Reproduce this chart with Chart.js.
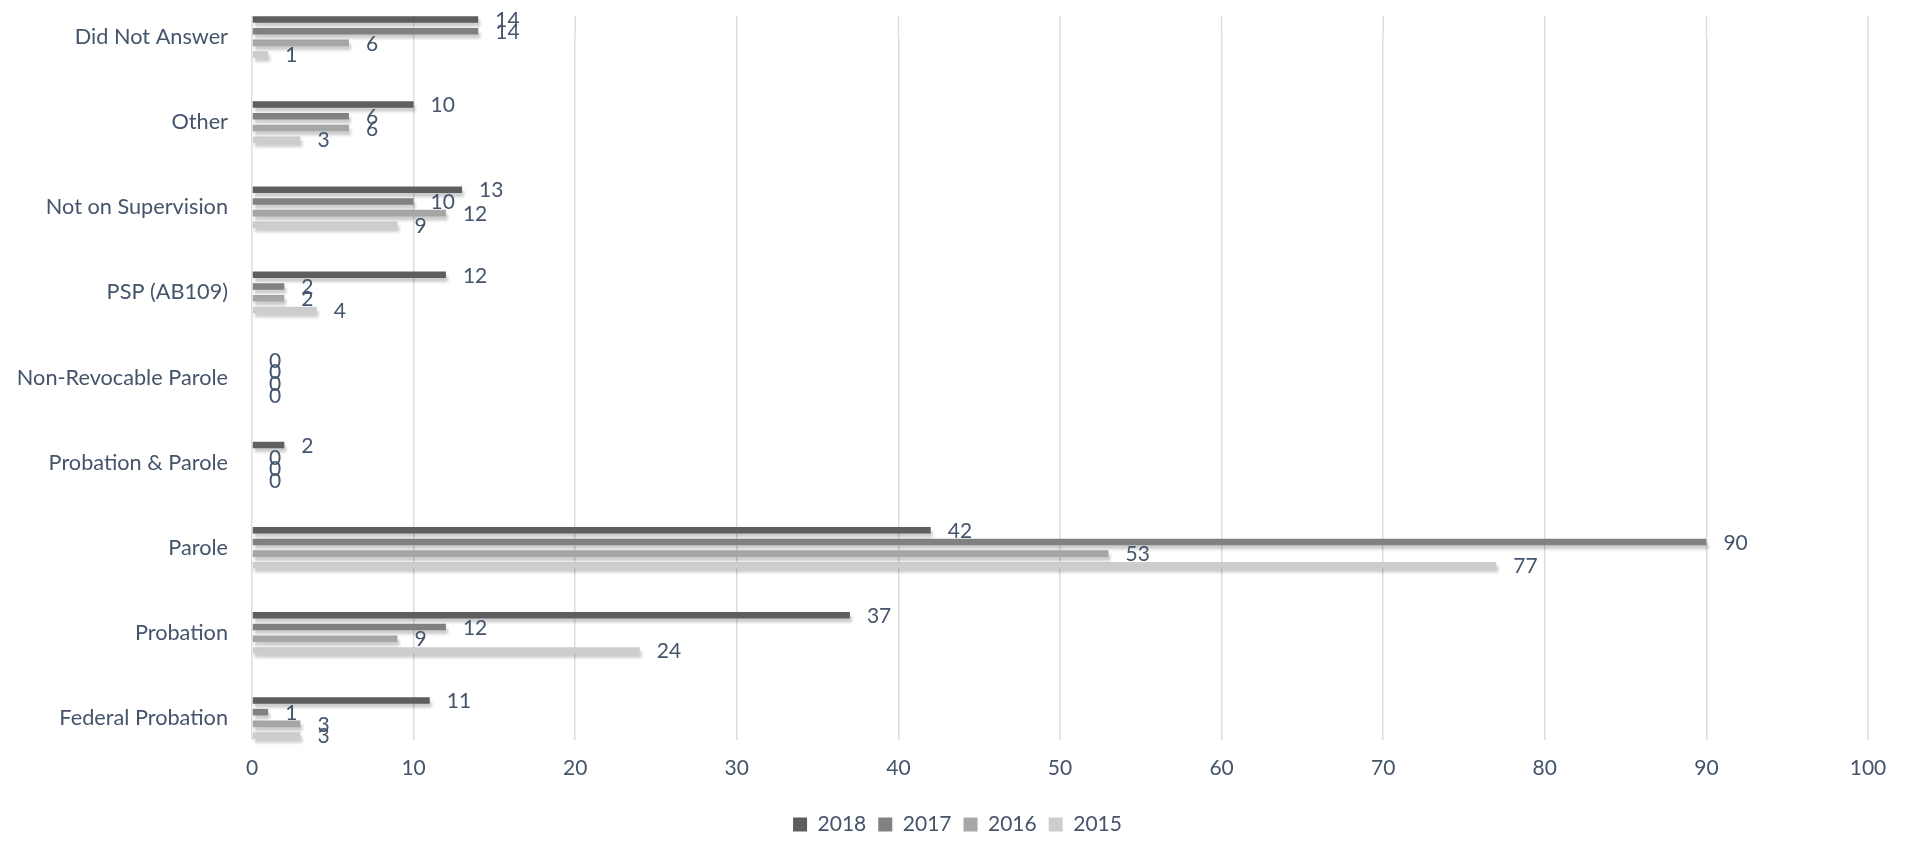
<!DOCTYPE html>
<html>
<head>
<meta charset="utf-8">
<script src="https://cdn.jsdelivr.net/npm/chart.js@4"></script>
<style>
  body { margin: 0; background: #fff; }
  #wrap { width: 1915px; height: 841px; position: relative; }
</style>
</head>
<body>
<div id="wrap"><canvas id="myChart"></canvas></div>
<script>
// Kategorien (von oben nach unten)
const categories = [
  "Did Not Answer",
  "Other",
  "Not on Supervision",
  "PSP (AB109)",
  "Non-Revocable Parole",
  "Probation & Parole",
  "Parole",
  "Probation",
  "Federal Probation"
];

const years = ["2018", "2017", "2016", "2015"];

const values2018 = [14, 10, 13, 12, 0, 2, 42, 37, 11];
const values2017 = [14, 6, 10, 2, 0, 0, 90, 12, 1];
const values2016 = [6, 6, 12, 2, 0, 0, 53, 9, 3];
const values2015 = [1, 3, 9, 4, 0, 0, 77, 24, 3];

const xTicks = [0, 10, 20, 30, 40, 50, 60, 70, 80, 90, 100];

const colors = ["#5e5e5e", "#818181", "#a6a6a6", "#cdcdcd"];
const textColor = "#44546a";
const gridColor = "#d9dee5";

Chart.defaults.font.family = "Lato";
Chart.defaults.font.size = 21;
Chart.defaults.color = textColor;

// Gitterlinien nach oben verlängern, Schatten unter den Balken, Werte rechts daneben
const barExtras = {
  id: "barExtras",
  beforeDatasetsDraw(chart) {
    const ctx = chart.ctx;
    const xScale = chart.scales.x;
    const top = chart.chartArea.top;
    ctx.save();
    ctx.strokeStyle = gridColor;
    ctx.lineWidth = 1.5;
    xScale.ticks.forEach(t => {
      const px = xScale.getPixelForValue(t.value);
      ctx.beginPath();
      ctx.moveTo(px, top - 21);
      ctx.lineTo(px, top);
      ctx.stroke();
    });
    ctx.restore();

    ctx.save();
    ctx.shadowColor = "rgba(0,0,0,0.2)";
    ctx.shadowOffsetX = 2;
    ctx.shadowOffsetY = 4;
    ctx.shadowBlur = 3;
  },
  afterDatasetsDraw(chart) {
    const ctx = chart.ctx;
    ctx.restore();
    ctx.save();
    ctx.font = "21px Lato";
    ctx.fillStyle = textColor;
    ctx.textAlign = "left";
    ctx.textBaseline = "middle";
    chart.data.datasets.forEach((ds, i) => {
      const meta = chart.getDatasetMeta(i);
      meta.data.forEach((bar, j) => {
        ctx.fillText(String(ds.data[j]), bar.x + 17, bar.y + 1);
      });
    });
    ctx.restore();
  }
};

const data = {
  labels: categories,
  datasets: [
    { label: years[0], data: values2018, backgroundColor: colors[0] },
    { label: years[1], data: values2017, backgroundColor: colors[1] },
    { label: years[2], data: values2016, backgroundColor: colors[2] },
    { label: years[3], data: values2015, backgroundColor: colors[3] }
  ]
};

const config = {
  type: "bar",
  data: data,
  plugins: [barExtras],
  options: {
    indexAxis: "y",
    responsive: true,
    maintainAspectRatio: false,
    animation: false,
    datasets: {
      bar: {
        categoryPercentage: 0.55,
        barPercentage: 0.56,
        clip: false
      }
    },
    layout: {
      padding: { top: 33, right: 0, bottom: 0, left: 0 }
    },
    scales: {
      x: {
        min: 0,
        max: 100,
        afterBuildTicks(scale) {
          scale.ticks = xTicks.map(v => ({ value: v }));
        },
        afterFit(scale) {
          scale.height = 84;
        },
        grid: {
          color: gridColor,
          tickColor: gridColor,
          lineWidth: 1.5,
          tickLength: 22
        },
        border: { display: false },
        ticks: { padding: 16, color: textColor }
      },
      y: {
        offset: false,
        afterFit(scale) {
          scale.width = 252;
        },
        grid: { display: false, drawTicks: false },
        border: { display: false },
        ticks: { padding: 24, color: textColor, font: { size: 21.7 } }
      },
      // leerer Rand rechts, damit die Legende mittig über die volle Breite steht
      yRight: {
        type: "category",
        axis: "y",
        position: "right",
        labels: categories,
        offset: false,
        afterFit(scale) {
          scale.width = 47;
        },
        grid: { display: false, drawTicks: false },
        border: { display: false },
        ticks: { display: false }
      }
    },
    plugins: {
      legend: {
        position: "bottom",
        maxHeight: 39,
        labels: {
          boxWidth: 14,
          boxHeight: 14,
          padding: 12,
          color: textColor
        }
      },
      tooltip: { enabled: false }
    }
  }
};

const myChart = new Chart(document.getElementById("myChart"), config);
</script>
</body>
</html>
